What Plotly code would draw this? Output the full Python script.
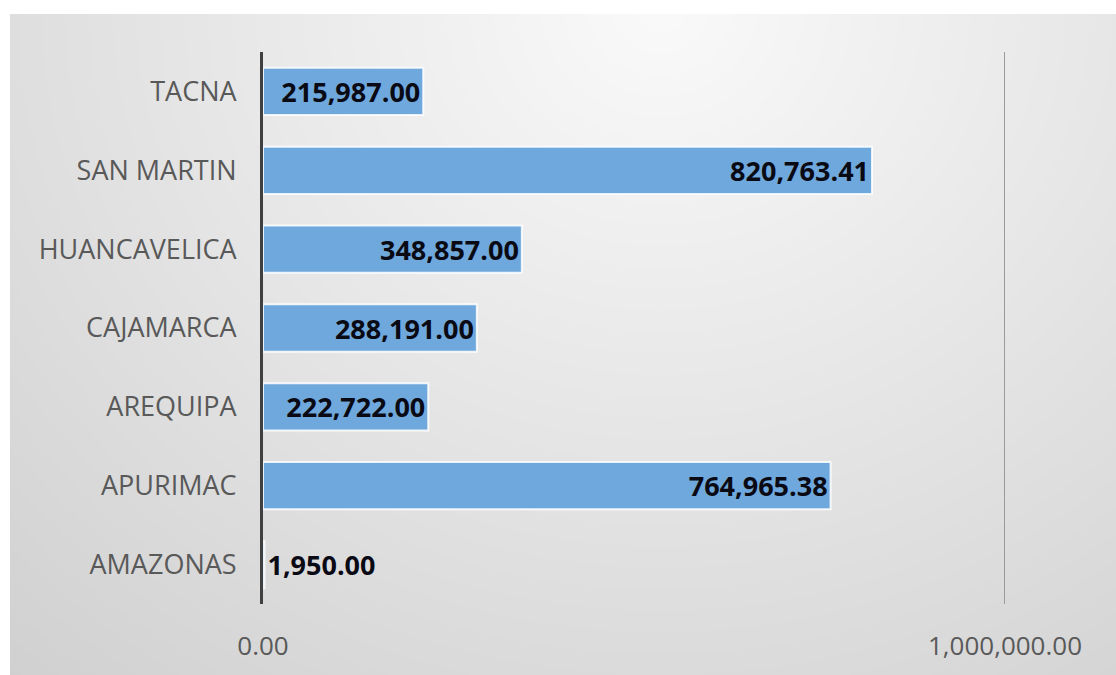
import base64, struct, zlib
import numpy as np
import plotly.graph_objects as go

# ---- data ----
regions = ["AMAZONAS", "APURIMAC", "AREQUIPA", "CAJAMARCA", "HUANCAVELICA", "SAN MARTIN", "TACNA"]
amounts = [1950.00, 764965.38, 222722.00, 288191.00, 348857.00, 820763.41, 215987.00]
x_ticks = [0, 1000000]
x_tick_labels = ["0.00", "1,000,000.00"]

W, H = 1116, 675
L, R, T, B = 263, 111, 52, 71
PW, PH = W - L - R, H - T - B
FONT = "Open Sans, Lato, sans-serif"

# ---- soft radial gray background (style only) ----
def gradient_png():
    yy, xx = np.mgrid[0:H, 0:W].astype(float)
    d = np.sqrt(((xx - 660) / 1.0) ** 2 + ((yy - 10) / 0.9) ** 2)
    g = 250 - d * 0.042
    g = np.clip(g, 205, 250)
    g[:14, :] = 255
    g[:, :10] = 255
    g = g.astype(np.uint8)
    raw = b"".join(b"\x00" + g[r].tobytes() for r in range(H))
    def chunk(t, data):
        c = struct.pack(">I", len(data)) + t + data
        return c + struct.pack(">I", zlib.crc32(t + data) & 0xFFFFFFFF)
    png = b"\x89PNG\r\n\x1a\n" + chunk(b"IHDR", struct.pack(">IIBBBBB", W, H, 8, 0, 0, 0, 0))
    png += chunk(b"IDAT", zlib.compress(raw, 9)) + chunk(b"IEND", b"")
    return "data:image/png;base64," + base64.b64encode(png).decode()

labels = [f"{v:,.2f}" for v in amounts]

fig = go.Figure(go.Bar(
    x=amounts, y=regions, orientation="h",
    marker=dict(color="#6fa8dc", line=dict(color="rgba(255,255,255,0.85)", width=2)),
    width=0.6,
    text=labels, textposition="auto", insidetextanchor="end",
    textfont=dict(family=FONT, size=27, color="#0a0a14", weight="bold"),
    outsidetextfont=dict(family=FONT, size=27, color="#0a0a14", weight="bold"),
    cliponaxis=False,
))

fig.add_shape(type="line", xref="x", yref="paper",
              x0=x_ticks[1], x1=x_ticks[1], y0=0, y1=1,
              line=dict(color="#9a9a9a", width=2), layer="below")

fig.update_layout(
    width=W, height=H,
    margin=dict(l=L, r=R, t=T, b=B, pad=0),
    paper_bgcolor="white",
    plot_bgcolor="rgba(0,0,0,0)",
    showlegend=False,
    font=dict(family=FONT, color="#595959"),
    images=[dict(source=gradient_png(), xref="paper", yref="paper",
                 x=-L / PW, y=1 + T / PH, sizex=W / PW, sizey=H / PH,
                 sizing="stretch", xanchor="left", yanchor="top", layer="below")],
    xaxis=dict(range=[0, 1000000], tickvals=x_ticks, ticktext=x_tick_labels,
               showgrid=False, zeroline=False,
               showline=False, tickfont=dict(size=26, color="#595959"),
               ticks="", ticklabelstandoff=24, fixedrange=True),
    yaxis=dict(categoryorder="array", categoryarray=regions,
               showline=True, linecolor="#404040", linewidth=3,
               showgrid=False, zeroline=False, ticks="",
               tickfont=dict(size=27, color="#595959"),
               ticklabelstandoff=18, fixedrange=True),
)

fig.write_html("out.html", config={"displayModeBar": False},
               post_script="document.body.style.margin='0';document.body.style.overflow='hidden';")
